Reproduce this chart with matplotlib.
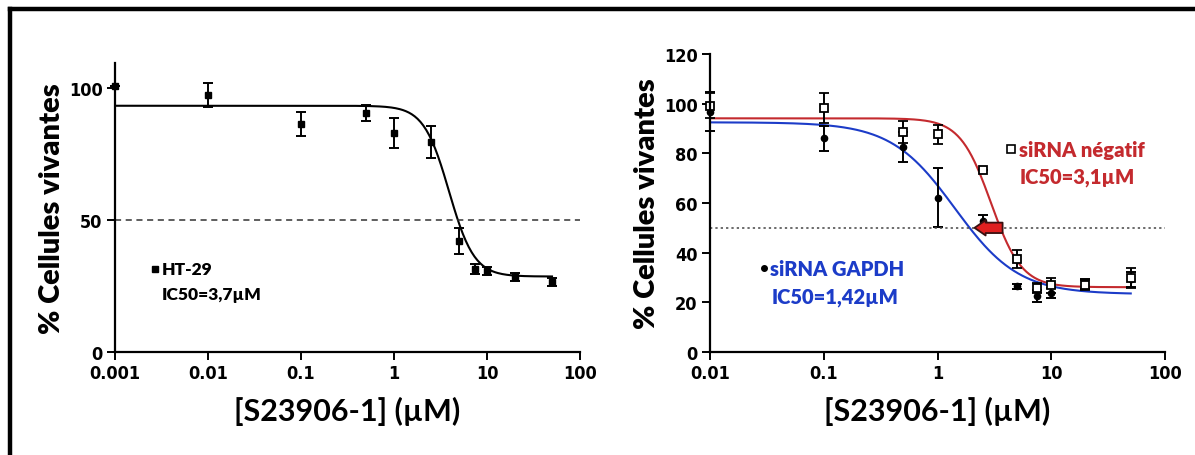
import numpy as np
import matplotlib
matplotlib.use("Agg")
import matplotlib.pyplot as plt
from matplotlib.lines import Line2D
from matplotlib.font_manager import FontProperties

plt.rcParams['font.family'] = ['Lato', 'DejaVu Sans']

# --- HT-29 (panneau gauche)
ht_x = [0.001, 0.01, 0.1, 0.5, 1, 2.5, 5, 7.5, 10, 20, 50]
ht_y = [100.6, 97.5, 86.5, 90.6, 83, 79.5, 42.1, 31.4, 30.6, 28.3, 26.4]
ht_err = [0, 4.5, 4.5, 3, 5.7, 6, 5, 2, 1.5, 1.5, 1.5]
ht_fit = dict(top=93.3, bottom=28.6, ic50=3.9, hill=3.2)

# --- siRNA (panneau droit)
si_x = [0.01, 0.1, 0.5, 1, 2.5, 5, 7.5, 10, 20, 50]
neg_y = [99.2, 98.3, 88.7, 87.6, 73.1, 37.5, 25.6, 26.8, 26.8, 29.9]
neg_err = [5, 6, 4.5, 4, 0, 3.5, 2, 3, 2, 4]
neg_fit = dict(top=94.1, bottom=26.1, ic50=2.95, hill=3.2)
gap_y = [96.8, 86.0, 82.6, 62.2, 52.8, 26.5, 22.5, 23.8, 27.2, 29.2]
gap_err = [8, 5, 6, 12, 2.5, 1, 2.5, 2, 2, 3]
gap_fit = dict(top=92.5, bottom=23.3, ic50=1.42, hill=1.55)

def fit_curve(x, top, bottom, ic50, hill):
    return bottom + (top - bottom) / (1 + (x / ic50) ** hill)

fig = plt.figure(figsize=(11.95, 4.56), dpi=100)

tick_fp = FontProperties(family=['Liberation Sans Narrow', 'DejaVu Sans'], weight='bold',
                         stretch='condensed', size=13)
W = 'heavy'

def style_axis(ax, xticks, xlabels, yticks):
    for s in ['top', 'right']:
        ax.spines[s].set_visible(False)
    for s in ['left', 'bottom']:
        ax.spines[s].set_linewidth(1.6)
    ax.set_xticks(xticks)
    ax.set_xticklabels(xlabels)
    ax.set_yticks(yticks)
    ax.minorticks_off()
    ax.tick_params(width=1.4, length=6, pad=3)
    for lab in ax.get_xticklabels() + ax.get_yticklabels():
        lab.set_fontproperties(tick_fp)
    ax.set_xlabel('[S23906-1] (µM)', fontsize=22, fontweight='bold', labelpad=10)
    ax.set_ylabel('% Cellules vivantes', fontsize=21, fontweight=W, labelpad=3)

# panneau gauche
ax1 = fig.add_axes([115/1195, 103/456, 465/1195, 289/456])
ax1.set_xscale('log')
xs = np.logspace(-3, np.log10(50), 300)
ax1.plot(xs, fit_curve(xs, **ht_fit), color='black', lw=1.5)
ax1.errorbar(ht_x, ht_y, yerr=ht_err, fmt='s', color='black', ms=5,
             elinewidth=1.4, capsize=3.5, capthick=1.4, clip_on=False)
ax1.axhline(50, color='#333333', ls=(0, (4, 3)), lw=1.1)
ax1.set_xlim(0.001, 100)
ax1.set_ylim(0, 109.5)
style_axis(ax1, [0.001, 0.01, 0.1, 1, 10, 100],
           ['0.001', '0.01', '0.1', '1', '10', '100'], [0, 50, 100])
ax1.plot([0.0027], [31.5], 's', color='black', ms=4)
ax1.text(0.0032, 31.5, 'HT-29', fontsize=12.5, fontweight=W, va='center')
ax1.text(0.0032, 22, 'IC50=3,7µM', fontsize=12.5, fontweight=W, va='center')

# panneau droit
ax2 = fig.add_axes([710/1195, 103/456, 455/1195, 298/456])
ax2.set_xscale('log')
xs2 = np.logspace(-2, np.log10(50), 300)
red = '#c42a2e'
blue = '#1c3cc8'
ax2.plot(xs2, fit_curve(xs2, **neg_fit), color=red, lw=1.5)
ax2.plot(xs2, fit_curve(xs2, **gap_fit), color=blue, lw=1.5)
ax2.errorbar(si_x, gap_y, yerr=gap_err, fmt='o', color='black', ms=4.5,
             elinewidth=1.4, capsize=3.5, capthick=1.4, clip_on=False)
ax2.errorbar(si_x, neg_y, yerr=neg_err, fmt='s', mfc='white', mec='black', mew=1.3,
             color='black', ms=6, elinewidth=1.4, capsize=3.5, capthick=1.4, clip_on=False)
ax2.axhline(50, color='#444444', ls=(0, (1.5, 2)), lw=1.1)
ax2.annotate('', xy=(2.0, 50), xytext=(3.95, 50),
             arrowprops=dict(arrowstyle='simple,head_width=1.1,head_length=0.8,tail_width=0.75',
                             fc='#e02020', ec='#3a1010', lw=1.3))
ax2.set_xlim(0.01, 100)
ax2.set_ylim(0, 120)
style_axis(ax2, [0.01, 0.1, 1, 10, 100],
           ['0.01', '0.1', '1', '10', '100'], list(range(0, 121, 20)))
ax2.plot([4.4], [81.7], 's', mfc='white', mec='black', mew=1.2, ms=5.5)
ax2.text(5.2, 81.7, 'siRNA négatif', color=red, fontsize=14.5, fontweight=W, va='center')
ax2.text(5.3, 70.5, 'IC50=3,1µM', color=red, fontsize=14.5, fontweight=W, va='center')
ax2.plot([0.030], [34], 'o', color='black', ms=4)
ax2.text(0.034, 33.5, 'siRNA GAPDH', color=blue, fontsize=14.5, fontweight=W, va='center')
ax2.text(0.035, 22.5, 'IC50=1,42µM', color=blue, fontsize=14.5, fontweight=W, va='center')

# cadre noir
fig.add_artist(Line2D([10/1195, 1.0], [1 - 10/456, 1 - 10/456], color='black', lw=3.2,
                      transform=fig.transFigure))
fig.add_artist(Line2D([10/1195, 10/1195], [0, 1 - 10/456], color='black', lw=3.2,
                      transform=fig.transFigure))

fig.savefig('out.png', dpi=100)
